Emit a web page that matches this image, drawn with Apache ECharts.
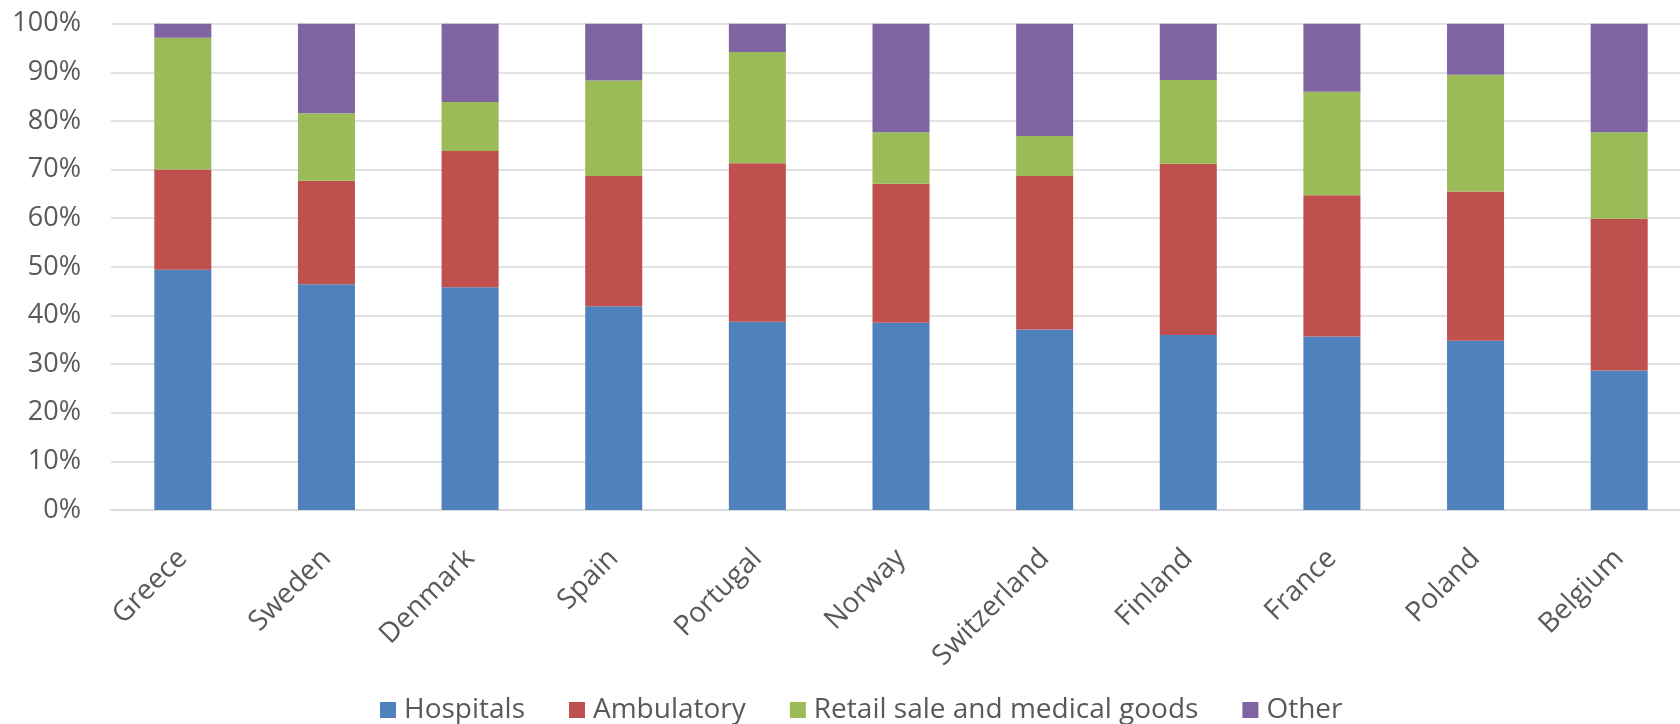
<!DOCTYPE html>
<html>
<head>
<meta charset="utf-8">
<script src="https://cdn.jsdelivr.net/npm/echarts@6/dist/echarts.min.js"></script>
<style>
html,body{margin:0;padding:0;background:#fff;}
#chart{width:1680px;height:724px;}
</style>
</head>
<body>
<div id="chart"></div>
<script>
const categories = ["Greece","Sweden","Denmark","Spain","Portugal","Norway","Switzerland","Finland","France","Poland","Belgium"];
const hospitals  = [49.4, 46.4, 45.8, 41.9, 38.7, 38.5, 37.1, 36.0, 35.7, 34.8, 28.7];
const ambulatory = [20.6, 21.3, 28.0, 26.8, 32.6, 28.6, 31.6, 35.2, 29.0, 30.7, 31.2];
const retail     = [27.1, 13.9, 10.1, 19.6, 22.9, 10.6,  8.2, 17.2, 21.3, 24.0, 17.8];
const other      = [ 2.9, 18.4, 16.1, 11.7,  5.8, 22.3, 23.1, 11.6, 14.0, 10.5, 22.3];
const seriesNames = ["Hospitals","Ambulatory","Retail sale and medical goods","Other"];
const yTicks = [0,10,20,30,40,50,60,70,80,90,100];

const colors = ["#4F81BD","#C0504D","#9BBB59","#8064A2"];
const font = "Open Sans";
const dataSets = [hospitals, ambulatory, retail, other];

const chart = echarts.init(document.getElementById('chart'), null, {renderer:'canvas'});
chart.setOption({
  animation:false,
  backgroundColor:'#fff',
  color: colors,
  grid:{left:111, top:23.7, width:1580, bottom:214, containLabel:false, outerBoundsMode:'none'},
  legend:{
    data: seriesNames,
    left:375, top:691,
    itemWidth:16, itemHeight:16, itemGap:44,
    icon:'rect',
    textStyle:{fontFamily:font, fontSize:28, color:'#595959', padding:[0,0,0,3]}
  },
  xAxis:{
    type:'category',
    data:categories,
    axisTick:{show:false},
    axisLine:{lineStyle:{color:'#D9D9D9', width:1.5}},
    axisLabel:{rotate:45, fontFamily:font, fontSize:28, color:'#595959', margin:44, interval:0}
  },
  yAxis:{
    type:'value',
    min:yTicks[0], max:yTicks[yTicks.length-1], interval:10,
    axisLine:{show:false}, axisTick:{show:false},
    splitLine:{lineStyle:{color:'#D9D9D9', width:1.5}},
    axisLabel:{formatter:'{value}%', fontFamily:font, fontSize:27, color:'#595959', margin:30}
  },
  series: seriesNames.map((n,i)=>({
    name:n, type:'bar', stack:'total', barWidth:'39.7%',
    data: dataSets[i],
    itemStyle:{color:colors[i]}
  }))
});
</script>
</body>
</html>
